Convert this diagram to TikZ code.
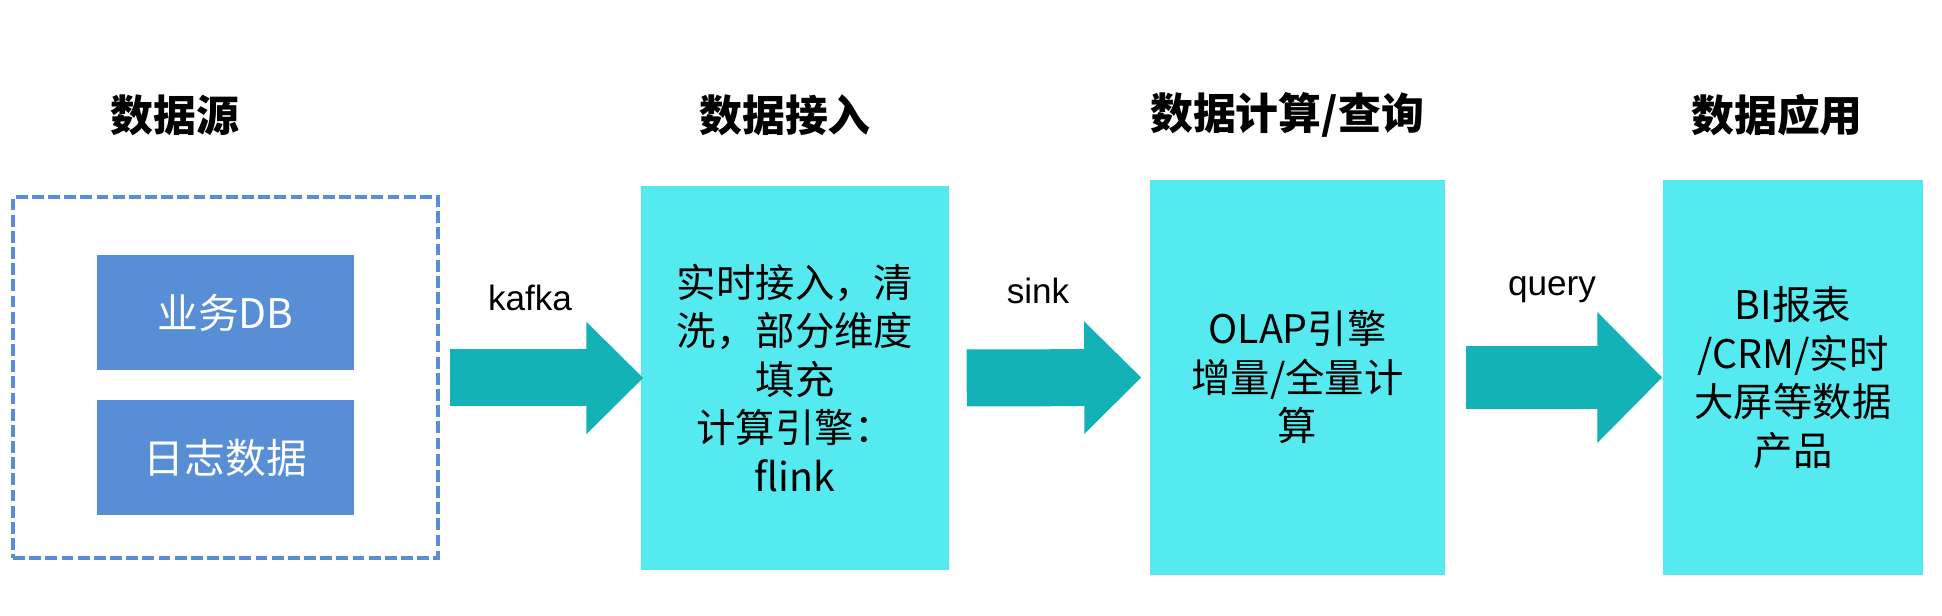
\documentclass[tikz,border=0pt]{standalone}
\usepackage{fontspec}
\usepackage{tikz}
\usetikzlibrary{arrows.meta}
\setmainfont{Liberation Sans}
\newfontfamily\cjk{Noto Sans CJK SC}

\definecolor{dbblue}{RGB}{88,142,213}
\definecolor{stagecyan}{RGB}{85,234,239}
\definecolor{flowteal}{RGB}{19,178,182}

\tikzset{
  stagetitle/.style={font=\cjk\bfseries\fontsize{12.2}{14}\selectfont},
  srcgroup/.style={draw=dbblue, line width=1.15pt, dash pattern=on 3.4pt off 1.2pt,
    minimum width=4.25cm, minimum height=3.61cm},
  dbbox/.style={fill=dbblue, text=white, minimum width=2.57cm, minimum height=1.15cm,
    font=\cjk\fontsize{11.6}{13.9}\selectfont},
  stagebox/.style={fill=stagecyan, align=center, inner sep=0pt,
    font=\cjk\fontsize{11.2}{13.8}\selectfont},
  flowarrow/.style={flowteal, line width=0.57cm, -{Triangle[length=0.57cm,width=1.09cm]}},
  flowlabel/.style={font=\fontsize{10}{12}\selectfont},
}

\begin{document}
\begin{tikzpicture}[y=-1cm]
    \useasboundingbox (0,0) rectangle (19.42,6.16);

    % Stage titles
    \node[stagetitle] (srctitle) at (1.75,1.15) {数据源};
    \node[stagetitle] (ingesttitle) at (7.85,1.15) {数据接入};
    \node[stagetitle] (computetitle) at (12.87,1.15) {数据计算/查询};
    \node[stagetitle] (apptitle) at (17.77,1.15) {数据应用};

    % Data sources
    \node[srcgroup] (sources) at (2.255,3.775) {};
    \node[dbbox] (bizdb) at (2.255,3.13) {业务DB};
    \node[dbbox] (logs) at (2.255,4.58) {日志数据};

    % Stages
    \node[stagebox, minimum width=3.08cm, minimum height=3.84cm] (ingest) at (7.95,3.78)
        {实时接入，清\\洗，部分维度\\填充\\计算引擎：\\flink};
    \node[stagebox, minimum width=2.95cm, minimum height=3.95cm] (olap) at (12.975,3.775)
        {OLAP引擎\\增量/全量计\\算};
    \node[stagebox, minimum width=2.60cm, minimum height=3.95cm] (biapp) at (17.93,3.775)
        {BI报表\\/CRM/实时\\大屏等数据\\产品};

    % Flow arrows
    \draw[flowarrow] ([xshift=0.1cm]sources.east |- ingest.west) -- ([xshift=0.03cm]ingest.west);
    \draw[flowarrow] ([xshift=0.17cm]ingest.east) -- ([xshift=-0.08cm]olap.west);
    \draw[flowarrow, line width=0.63cm, -{Triangle[length=0.65cm,width=1.27cm]}]
        ([xshift=0.2cm]olap.east) -- (biapp.west);

    \node[flowlabel] (kafka) at (5.30,2.975) {kafka};
    \node[flowlabel] (sink) at (10.38,2.905) {sink};
    \node[flowlabel] (query) at (15.52,2.90) {query};
\end{tikzpicture}
\end{document}
